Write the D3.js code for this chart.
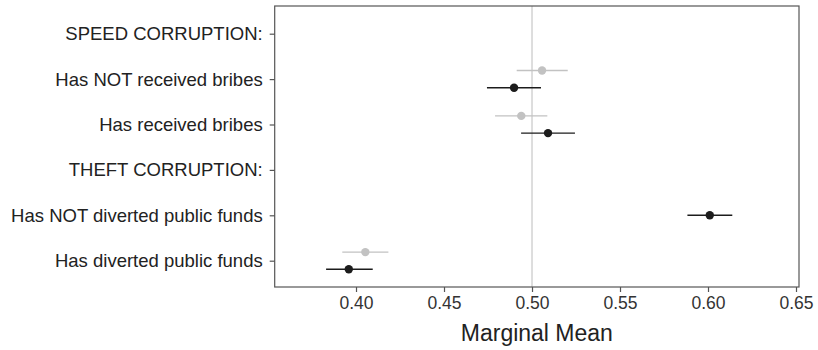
<!DOCTYPE html>
<html>
<head>
<meta charset="utf-8">
<script src="https://cdn.jsdelivr.net/npm/d3@7"></script>
<style>
  html, body { margin: 0; padding: 0; background: #fff; }
  svg { display: block; font-family: "Liberation Sans", Arial, Helvetica, sans-serif; }
</style>
</head>
<body>
<script>
const categories = [
  "SPEED CORRUPTION:",
  "Has NOT received bribes",
  "Has received bribes",
  "THEFT CORRUPTION:",
  "Has NOT diverted public funds",
  "Has diverted public funds"
];
const grayMean  = [null, 0.5057, 0.4939, null, null, 0.4053];
const grayLo    = [null, 0.4913, 0.4790, null, null, 0.3922];
const grayHi    = [null, 0.5203, 0.5087, null, null, 0.4184];
const blackMean = [null, 0.4898, 0.5091, null, 0.6010, 0.3959];
const blackLo   = [null, 0.4744, 0.4938, null, 0.5883, 0.3830];
const blackHi   = [null, 0.5051, 0.5244, null, 0.6138, 0.4095];
const xTicks = [0.40, 0.45, 0.50, 0.55, 0.60, 0.65];
const refValue = 0.5;
const xTitle = "Marginal Mean";

const W = 818, H = 350;
const panel = { left: 274.7, right: 799, top: 6, bottom: 287 };

const svg = d3.select("body").append("svg").attr("width", W).attr("height", H);

const x = d3.scaleLinear().domain([0.3538, 0.6517]).range([panel.left, panel.right]);
const y = d3.scalePoint().domain(categories).range([33.7, 260.7]).padding(0);

// reference line
svg.append("line")
  .attr("x1", x(refValue)).attr("x2", x(refValue))
  .attr("y1", panel.top).attr("y2", panel.bottom)
  .attr("stroke", "#c8c8c8").attr("stroke-width", 1.2);

// series
const series = [
  { name: "gray", mean: grayMean, lo: grayLo, hi: grayHi, color: "#c2c2c2", dodge: -8.6 },
  { name: "black", mean: blackMean, lo: blackLo, hi: blackHi, color: "#1c1c1c", dodge: 8.6 }
];

series.forEach(s => {
  const pts = categories.map((c, i) => {
    if (s.mean[i] == null) return null;
    const both = grayMean[i] != null && blackMean[i] != null;
    return { c, m: s.mean[i], lo: s.lo[i], hi: s.hi[i], yy: y(c) + (both ? s.dodge : 0) };
  }).filter(d => d);
  const g = svg.append("g");
  g.selectAll("line").data(pts).enter().append("line")
    .attr("x1", d => x(d.lo)).attr("x2", d => x(d.hi))
    .attr("y1", d => d.yy).attr("y2", d => d.yy)
    .attr("stroke", s.color).attr("stroke-width", 1.4);
  g.selectAll("circle").data(pts).enter().append("circle")
    .attr("cx", d => x(d.m)).attr("cy", d => d.yy).attr("r", 4.2)
    .attr("fill", s.color);
});

// panel border
svg.append("rect")
  .attr("x", panel.left).attr("y", panel.top)
  .attr("width", panel.right - panel.left).attr("height", panel.bottom - panel.top)
  .attr("fill", "none").attr("stroke", "#555").attr("stroke-width", 1.2);

// x axis
const xAxis = d3.axisBottom(x).tickValues(xTicks).tickFormat(d3.format(".2f")).tickSize(5).tickPadding(5);
const gx = svg.append("g").attr("transform", `translate(0,${panel.bottom})`).call(xAxis);
gx.select(".domain").remove();
gx.selectAll(".tick line").attr("stroke", "#555").attr("stroke-width", 1.2);
gx.selectAll(".tick text").attr("fill", "#333").style("font-size", "17.5px")
  .attr("font-family", "Liberation Sans, Arial, sans-serif");

// y axis
const yAxis = d3.axisLeft(y).tickSize(5).tickPadding(7);
const gy = svg.append("g").attr("transform", `translate(${panel.left},0)`).call(yAxis);
gy.select(".domain").remove();
gy.selectAll(".tick line").attr("stroke", "#555").attr("stroke-width", 1.2);
gy.selectAll(".tick text").attr("fill", "#222").style("font-size", "18.5px")
  .attr("font-family", "Liberation Sans, Arial, sans-serif");

// x title
svg.append("text")
  .attr("x", (panel.left + panel.right) / 2).attr("y", 341)
  .attr("text-anchor", "middle").attr("fill", "#222")
  .style("font-size", "23px").text(xTitle);
</script>
</body>
</html>
